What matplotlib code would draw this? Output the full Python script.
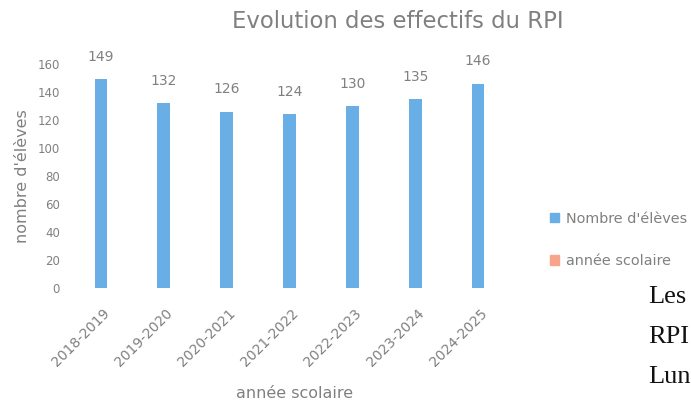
import matplotlib
matplotlib.use("Agg")
import matplotlib.pyplot as plt
from matplotlib.patches import Patch
from matplotlib.transforms import ScaledTranslation

categories = ["2018-2019", "2019-2020", "2020-2021", "2021-2022", "2022-2023", "2023-2024", "2024-2025"]
values = [149, 132, 126, 124, 130, 135, 146]
yticks = [0, 20, 40, 60, 80, 100, 120, 140, 160]

blue = "#6AAEE6"
salmon = "#F7A48A"
gray = "#808080"

fig = plt.figure(figsize=(6.91, 4.05), dpi=100)
ax = fig.add_axes([69.5/691, 117/405, 440/691, 224/405])
x = list(range(len(categories)))
ax.bar(x, values, width=0.2, color=blue)
for xi, v in zip(x, values):
    ax.text(xi, v + 11, str(v), ha="center", va="bottom", fontsize=10, color=gray)
ax.set_xlim(-0.5, len(categories) - 0.5)
ax.set_ylim(0, 160)
ax.set_yticks(yticks)
ax.set_yticklabels([str(t) for t in yticks], fontsize=8.5, color=gray)
ax.set_xticks(x)
ax.set_xticklabels(categories, rotation=45, ha="right", va="top", rotation_mode="anchor",
                   fontsize=10, color=gray)
ax.tick_params(axis="y", length=0, pad=7)
ax.tick_params(axis="x", length=0, pad=0)
off = ScaledTranslation(2/100, -18/100, fig.dpi_scale_trans)
for lab in ax.get_xticklabels():
    lab.set_transform(lab.get_transform() + off)
for s in ax.spines.values():
    s.set_visible(False)
ax.set_xlabel("année scolaire", fontsize=11.5, color=gray, va="center")
ax.xaxis.set_label_coords((295 - 69.5) / 440, (288 - 393) / 224)
ax.set_ylabel("nombre d'élèves", fontsize=11.5, color=gray, labelpad=5)
fig.text(398/691, 1 - 22/405, "Evolution des effectifs du RPI", ha="center", va="center", fontsize=16.4, color=gray)

handles = [Patch(color=blue, label="Nombre d'élèves"), Patch(color=salmon, label="année scolaire")]
leg = fig.legend(handles=handles, loc="upper left", bbox_to_anchor=(537/691, 1 - 199/405), frameon=False,
                 fontsize=10.4, handlelength=0.6, handleheight=0.6, labelspacing=1.95, handletextpad=0.5)
for t in leg.get_texts():
    t.set_color(gray)

for yy, s in [(297, "Les"), (337, "RPI"), (377, "Lun")]:
    fig.text(648/691, 1 - yy/405, s, ha="left", va="center", fontsize=19, family="Liberation Serif", color="#111111")

fig.savefig("out.png", dpi=100)
